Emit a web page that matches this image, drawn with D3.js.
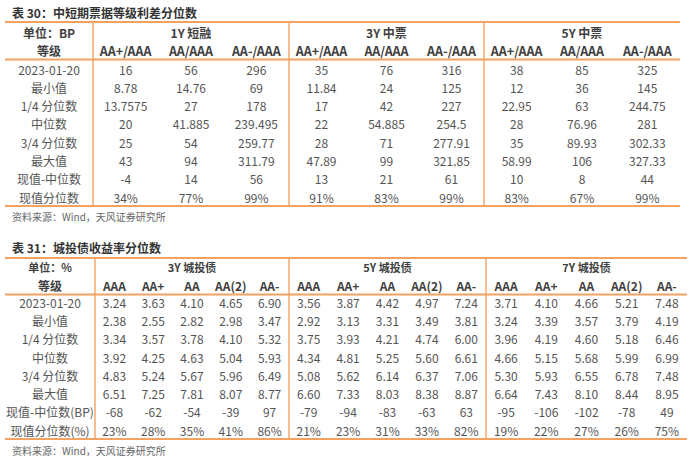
<!DOCTYPE html>
<html>
<head>
<meta charset="utf-8">
<script src="https://cdn.jsdelivr.net/npm/d3@7"></script>
<style>
  html, body { margin: 0; padding: 0; background: #fff; }
  svg { display: block; font-family: "Noto Sans CJK SC", "Noto Sans", sans-serif; }
</style>
</head>
<body>
<svg id="chart" width="700" height="461"></svg>
<script>
// ---------- Data ----------
const table1Title = "表 30：中短期票据等级利差分位数";
const table1Unit = "单位：BP";
const table1GradeLabel = "等级";
const table1Groups = ["1Y 短融", "3Y 中票", "5Y 中票"];
const table1Cols = ["AA+/AAA", "AA/AAA", "AA-/AAA"];
const table1Rows = ["2023-01-20", "最小值", "1/4 分位数", "中位数", "3/4 分位数", "最大值", "现值-中位数", "现值分位数"];
const table1Values = [
  ["16", "56", "296", "35", "76", "316", "38", "85", "325"],
  ["8.78", "14.76", "69", "11.84", "24", "125", "12", "36", "145"],
  ["13.7575", "27", "178", "17", "42", "227", "22.95", "63", "244.75"],
  ["20", "41.885", "239.495", "22", "54.885", "254.5", "28", "76.96", "281"],
  ["25", "54", "259.77", "28", "71", "277.91", "35", "89.93", "302.33"],
  ["43", "94", "311.79", "47.89", "99", "321.85", "58.99", "106", "327.33"],
  ["-4", "14", "56", "13", "21", "61", "10", "8", "44"],
  ["34%", "77%", "99%", "91%", "83%", "99%", "83%", "67%", "99%"]
];

const table2Title = "表 31：城投债收益率分位数";
const table2Unit = "单位：%";
const table2GradeLabel = "等级";
const table2Groups = ["3Y 城投债", "5Y 城投债", "7Y 城投债"];
const table2Cols = ["AAA", "AA+", "AA", "AA(2)", "AA-"];
const table2Rows = ["2023-01-20", "最小值", "1/4 分位数", "中位数", "3/4 分位数", "最大值", "现值-中位数(BP)", "现值分位数(%)"];
const table2Values = [
  ["3.24", "3.63", "4.10", "4.65", "6.90", "3.56", "3.87", "4.42", "4.97", "7.24", "3.71", "4.10", "4.66", "5.21", "7.48"],
  ["2.38", "2.55", "2.82", "2.98", "3.47", "2.92", "3.13", "3.31", "3.49", "3.81", "3.24", "3.39", "3.57", "3.79", "4.19"],
  ["3.34", "3.57", "3.78", "4.10", "5.32", "3.75", "3.93", "4.21", "4.74", "6.00", "3.96", "4.19", "4.60", "5.18", "6.46"],
  ["3.92", "4.25", "4.63", "5.04", "5.93", "4.34", "4.81", "5.25", "5.60", "6.61", "4.66", "5.15", "5.68", "5.99", "6.99"],
  ["4.83", "5.24", "5.67", "5.96", "6.49", "5.08", "5.62", "6.14", "6.37", "7.06", "5.30", "5.93", "6.55", "6.78", "7.48"],
  ["6.51", "7.25", "7.81", "8.07", "8.77", "6.60", "7.33", "8.03", "8.38", "8.87", "6.64", "7.43", "8.10", "8.44", "8.95"],
  ["-68", "-62", "-54", "-39", "97", "-79", "-94", "-83", "-63", "63", "-95", "-106", "-102", "-78", "49"],
  ["23%", "28%", "35%", "41%", "86%", "21%", "23%", "31%", "33%", "82%", "19%", "22%", "27%", "26%", "75%"]
];

const sourceText = "资料来源：Wind，天风证券研究所";

// ---------- Drawing ----------
const svg = d3.select("#chart");
const LINE = "#F4A261";
const HEAD = "#3f3f3f";
const BODY = "#555555";

function drawTable(cfg) {
  const g = svg.append("g");
  const { bounds, groups, cols, rows, values, yTitle, yTop, yHead1, yHead2, yHeadLine, yFirst, yLast, yBottom, ySource } = cfg;
  const nCols = cols.length;

  const groupEdge = d3.scaleOrdinal().domain(d3.range(groups.length + 1)).range(bounds.slice(1));
  const yRow = d3.scalePoint().domain(d3.range(rows.length)).range([yFirst, yLast]);
  const colScales = groups.map((_, gi) =>
    d3.scaleBand().domain(d3.range(nCols)).range([groupEdge(gi), groupEdge(gi + 1)])
  );
  const colX = (ci) => {
    const gi = Math.floor(ci / nCols);
    const s = colScales[gi];
    return s(ci % nCols) + s.bandwidth() / 2;
  };
  const firstColX = (bounds[0] + bounds[1]) / 2;

  g.append("text").attr("x", 12).attr("y", yTitle).attr("dominant-baseline", "central")
    .attr("font-size", 12).attr("font-weight", 700).attr("fill", "#333").text(cfg.title);

  g.selectAll("line.h").data([yTop, yHeadLine, yBottom]).join("line")
    .attr("x1", bounds[0]).attr("x2", bounds[bounds.length - 1])
    .attr("y1", d => d).attr("y2", d => d)
    .attr("stroke", LINE).attr("stroke-width", 1.8);

  g.selectAll("line.v").data(bounds.slice(1, -1)).join("line")
    .attr("x1", d => d).attr("x2", d => d)
    .attr("y1", yTop).attr("y2", yBottom)
    .attr("stroke", LINE).attr("stroke-width", 1.4);

  g.append("text").attr("x", firstColX).attr("y", yHead1).attr("text-anchor", "middle")
    .attr("dominant-baseline", "central").attr("font-size", cfg.groupFont).attr("font-weight", 700)
    .attr("fill", HEAD).text(cfg.unit);
  g.append("text").attr("x", firstColX).attr("y", yHead2).attr("text-anchor", "middle")
    .attr("dominant-baseline", "central").attr("font-size", 12).attr("font-weight", 700)
    .attr("fill", HEAD).text(cfg.grade);
  g.selectAll("text.grp").data(groups).join("text")
    .attr("x", (d, i) => (groupEdge(i) + groupEdge(i + 1)) / 2)
    .attr("y", yHead1).attr("text-anchor", "middle").attr("dominant-baseline", "central")
    .attr("font-size", cfg.groupFont).attr("font-weight", 700).attr("fill", HEAD).text(d => d);
  const allCols = groups.flatMap(() => cols);
  g.selectAll("text.col").data(allCols).join("text")
    .attr("x", (d, i) => colX(i)).attr("y", yHead2)
    .attr("text-anchor", "middle").attr("dominant-baseline", "central")
    .attr("font-size", cfg.colFont).attr("font-weight", 700).attr("fill", HEAD).text(d => d);

  g.selectAll("text.rl").data(rows).join("text")
    .attr("x", firstColX).attr("y", (d, i) => yRow(i))
    .attr("text-anchor", "middle").attr("dominant-baseline", "central")
    .attr("font-size", 12).attr("fill", BODY).text(d => d);

  values.forEach((row, ri) => {
    g.selectAll(null).data(row).join("text")
      .attr("x", (d, ci) => colX(ci)).attr("y", yRow(ri))
      .attr("text-anchor", "middle").attr("dominant-baseline", "central")
      .attr("font-size", 12).attr("fill", BODY).text(d => d);
  });

  g.append("text").attr("x", 12).attr("y", ySource).attr("dominant-baseline", "central")
    .attr("font-size", 10).attr("fill", "#666").text(sourceText);
}

drawTable({
  title: table1Title, unit: table1Unit, grade: table1GradeLabel,
  groups: table1Groups, cols: table1Cols, rows: table1Rows, values: table1Values,
  bounds: [5, 93, 289, 484, 680], groupFont: 12, colFont: 12.5,
  yTitle: 12, yTop: 22, yHead1: 32, yHead2: 50, yHeadLine: 59.5,
  yFirst: 69, yLast: 197, yBottom: 206, ySource: 216
});

drawTable({
  title: table2Title, unit: table2Unit, grade: table2GradeLabel,
  groups: table2Groups, cols: table2Cols, rows: table2Rows, values: table2Values,
  bounds: [5, 95, 289, 486, 687], groupFont: 11, colFont: 12,
  yTitle: 247, yTop: 258, yHead1: 267, yHead2: 285, yHeadLine: 294.5,
  yFirst: 302.5, yLast: 430, yBottom: 439, ySource: 450
});
</script>
</body>
</html>
